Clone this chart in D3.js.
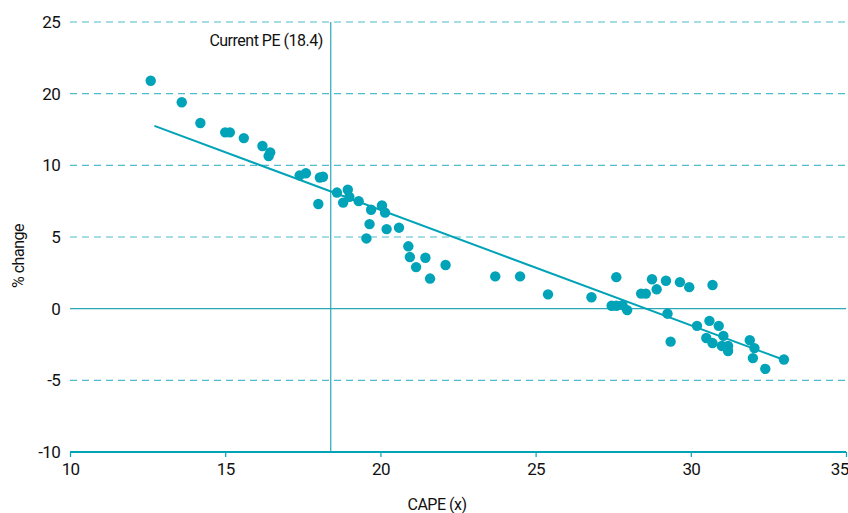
<!DOCTYPE html>
<html>
<head>
<meta charset="utf-8">
<script src="https://cdn.jsdelivr.net/npm/d3@7"></script>
<style>
  html, body { margin: 0; padding: 0; background: #fff; }
  text { font-family: Roboto, "Noto Sans", sans-serif; fill: #111; }
</style>
</head>
<body>
<svg id="chart" width="848" height="513"></svg>
<script>
// ---- data ----
const capeValues = [12.6, 13.6, 14.2, 15.0, 15.15, 15.6, 16.2, 16.45, 16.4, 17.4, 17.6, 18.05, 18.15, 18.0,
  18.6, 18.95, 19.0, 18.8, 19.3, 19.7, 20.05, 20.15, 19.65, 20.2, 20.6, 19.55, 20.9, 20.95, 21.45, 21.15,
  22.1, 21.6, 23.7, 24.5, 25.4, 26.8, 27.6, 27.45, 27.6, 27.8, 27.95, 28.4, 28.55, 28.75, 28.9, 29.2,
  29.65, 29.95, 30.7, 29.25, 29.35, 30.2, 30.6, 30.9, 30.5, 30.7, 31.05, 31.0, 31.2, 31.2, 31.9, 32.05,
  32.0, 32.4, 33.0];
const changeValues = [20.9, 18.8, 15.9, 14.6, 14.6, 13.8, 12.7, 11.8, 11.3, 9.3, 9.45, 9.15, 9.2, 7.3,
  8.1, 8.3, 7.8, 7.4, 7.5, 6.9, 7.2, 6.7, 5.9, 5.55, 5.65, 4.9, 4.35, 3.6, 3.55, 2.9,
  3.05, 2.1, 2.25, 2.25, 1.0, 0.8, 2.2, 0.2, 0.2, 0.25, -0.1, 1.05, 1.05, 2.05, 1.35, 1.95,
  1.85, 1.5, 1.65, -0.35, -2.3, -1.2, -0.85, -1.2, -2.05, -2.4, -1.9, -2.6, -2.6, -2.95, -2.2, -2.75,
  -3.45, -4.2, -3.55];
const trendX = [12.72, 32.97];
const trendY = [15.5, -3.55];
const currentPE = 18.4;
const xTicks = [10, 15, 20, 25, 30, 35];
const yTicks = [-10, -5, 0, 5, 10, 20, 25];
const yTickLabels = ["-10", "-5", "0", "5", "10", "20", "25"];
const xTitle = "CAPE (x)";
const yTitle = "% change";
const peLabel = "Current PE (18.4)";

// ---- chart ----
const svg = d3.select("#chart");
const mLeft = 70, mRight = 846, mTop = 22, mBottom = 452;
const x = d3.scaleLinear().domain([10, 35]).range([mLeft, mRight]);
const y = d3.scaleLinear().domain(yTicks)
  .range(yTicks.map((d, i) => mBottom - i * (mBottom - mTop) / (yTicks.length - 1)));

const teal = "#00a3b7";
const gridCol = "#4fbccb";

// gridlines
svg.append("g").selectAll("line")
  .data(yTicks.filter(d => d !== 0 && d !== -10))
  .join("line")
  .attr("x1", mLeft).attr("x2", mRight)
  .attr("y1", d => y(d)).attr("y2", d => y(d))
  .attr("stroke", gridCol).attr("stroke-width", 1.2)
  .attr("stroke-dasharray", "7,5");

// zero line
svg.append("line")
  .attr("x1", mLeft).attr("x2", mRight)
  .attr("y1", y(0)).attr("y2", y(0))
  .attr("stroke", "#2aa8b8").attr("stroke-width", 1.2);

// y tick labels
svg.append("g").selectAll("text")
  .data(yTicks)
  .join("text")
  .attr("x", 60).attr("y", d => y(d))
  .attr("dy", "0.36em")
  .attr("text-anchor", "end")
  .attr("font-size", 17)
  .attr("letter-spacing", -0.7)
  .text((d, i) => yTickLabels[i]);

// current PE line
svg.append("line")
  .attr("x1", x(currentPE)).attr("x2", x(currentPE))
  .attr("y1", mTop).attr("y2", mBottom)
  .attr("stroke", "#2aa8b8").attr("stroke-width", 1.2);
svg.append("text")
  .attr("x", x(currentPE) - 8).attr("y", 46)
  .attr("text-anchor", "end")
  .attr("font-size", 16)
  .attr("letter-spacing", -0.5)
  .text(peLabel);

// x axis
const xAxis = svg.append("g")
  .attr("transform", `translate(0,${mBottom})`)
  .call(d3.axisBottom(x).tickValues(xTicks).tickSize(5).tickFormat(d3.format("d")));
xAxis.select(".domain").attr("stroke", teal).attr("stroke-width", 2.2).attr("d", `M${mLeft},0H${mRight}`);
xAxis.selectAll(".tick line").attr("stroke", teal).attr("stroke-width", 1.2);
xAxis.selectAll(".tick text")
  .attr("font-size", 17).attr("fill", "#111").attr("letter-spacing", -0.7)
  .attr("font-family", "Roboto, 'Noto Sans', sans-serif")
  .attr("y", 11);
xAxis.selectAll(".tick text").filter(d => d === xTicks[xTicks.length - 1])
  .attr("text-anchor", "end").attr("x", 2);

// axis titles
svg.append("text")
  .attr("x", 437).attr("y", 510)
  .attr("text-anchor", "middle")
  .attr("font-size", 16).attr("letter-spacing", -0.5)
  .text(xTitle);
svg.append("text")
  .attr("transform", `translate(24,${256}) rotate(-90)`)
  .attr("text-anchor", "middle")
  .attr("font-size", 16).attr("letter-spacing", -0.5)
  .text(yTitle);

// trend line
svg.append("path")
  .datum(trendX.map((d, i) => [d, trendY[i]]))
  .attr("d", d3.line().x(d => x(d[0])).y(d => y(d[1])))
  .attr("fill", "none").attr("stroke", teal).attr("stroke-width", 2);

// points
svg.append("g").selectAll("circle")
  .data(capeValues.map((d, i) => [d, changeValues[i]]))
  .join("circle")
  .attr("cx", d => x(d[0])).attr("cy", d => y(d[1]))
  .attr("r", 5.2)
  .attr("fill", teal);
</script>
</body>
</html>
